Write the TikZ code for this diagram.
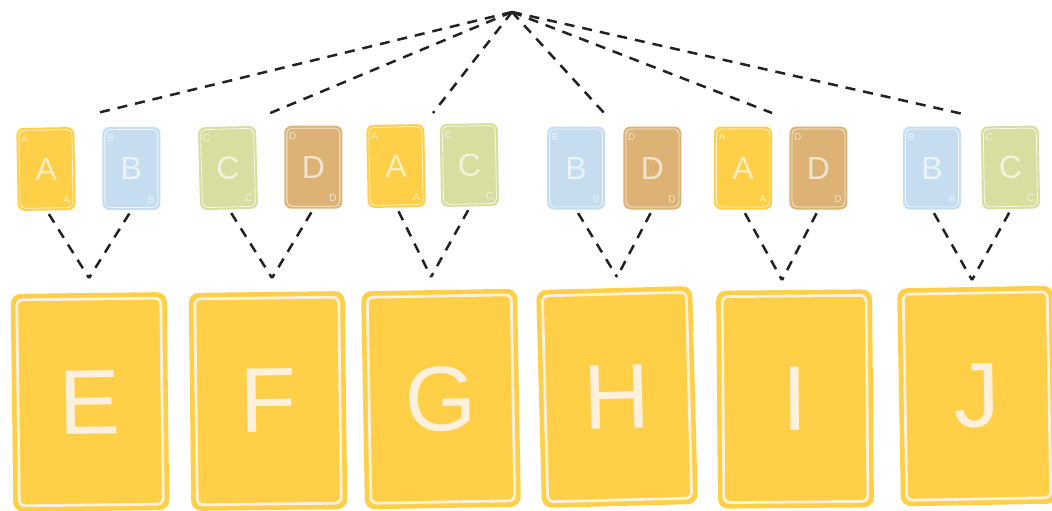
\documentclass[tikz,border=0pt]{standalone}
\usepackage{fontspec}
\setmainfont{Liberation Sans}
\usetikzlibrary{positioning}

\definecolor{cardyellow}{HTML}{FFCF48}
\definecolor{cardblue}{HTML}{C5DDEE}
\definecolor{cardgreen}{HTML}{D8DEA0}
\definecolor{cardtan}{HTML}{DCB374}
\definecolor{cream}{HTML}{FDF0DC}
\definecolor{dashgray}{HTML}{222222}

\begin{document}
\begin{tikzpicture}[
    x=1pt, y=-1pt,
    smallcard/.style={rectangle, rounded corners=7pt, fill=#1, minimum width=58pt, minimum height=83pt, inner sep=0pt, text=white, text opacity=.65, font=\fontsize{32}{32}\selectfont},
    smallframe/.style={rectangle, rounded corners=5pt, draw=white, draw opacity=.75, line width=.8pt, minimum width=53pt, minimum height=78pt, inner sep=0pt},
    tl/.style={anchor=north west, inner sep=0pt, xshift=2.5pt, yshift=-5pt, text=white, text opacity=.65, font=\fontsize{10}{10}\selectfont},
    br/.style={anchor=south east, inner sep=0pt, xshift=-3.5pt, yshift=4.5pt, text=white, text opacity=.65, font=\fontsize{10}{10}\selectfont},
    bigcard/.style={rectangle, rounded corners=10pt, fill=cardyellow, minimum width=156pt, minimum height=218pt, inner sep=0pt, text=cream, font=\fontsize{92}{92}\selectfont},
    bigframe/.style={rectangle, rounded corners=6pt, draw=cream, line width=2.8pt, minimum width=144pt, minimum height=206pt, inner sep=0pt},
    link/.style={draw=dashgray, line width=2.5pt, dash pattern=on 10pt off 8pt},
    ]
\clip (0,0) rectangle (1052,511);

%Small cards
\node[smallcard=cardyellow, rotate=1]   (A1)                        at (46,169) {A};
\node[smallcard=cardblue]               (B1) [right=27pt of A1]                 {B};
\node[smallcard=cardgreen, rotate=1.5]  (C1)                        at (228,168) {C};
\node[smallcard=cardtan]                (D1) [right=27pt of C1]                 {D};
\node[smallcard=cardyellow, rotate=1]   (A2)                        at (396,166) {A};
\node[smallcard=cardgreen, rotate=1]    (C2) [right=15pt of A2]                 {C};
\node[smallcard=cardblue]               (B2)                        at (576,168) {B};
\node[smallcard=cardtan]                (D2) [right=18pt of B2]                 {D};
\node[smallcard=cardyellow]             (A3)                        at (743,168) {A};
\node[smallcard=cardtan]                (D3) [right=17pt of A3]                 {D};
\node[smallcard=cardblue]               (B3)                        at (932,168) {B};
\node[smallcard=cardgreen, rotate=1]    (C3) [right=20pt of B3]                 {C};

%Small frames
\node[smallframe, rotate=1,   label={[tl]north west:A}, label={[br]south east:A}] (A1f) at (A1.center) {};
\node[smallframe,             label={[tl]north west:B}, label={[br]south east:B}] (B1f) at (B1.center) {};
\node[smallframe, rotate=1.5, label={[tl]north west:C}, label={[br]south east:C}] (C1f) at (C1.center) {};
\node[smallframe,             label={[tl]north west:D}, label={[br]south east:D}] (D1f) at (D1.center) {};
\node[smallframe, rotate=1,   label={[tl]north west:A}, label={[br]south east:A}] (A2f) at (A2.center) {};
\node[smallframe, rotate=1,   label={[tl]north west:C}, label={[br]south east:C}] (C2f) at (C2.center) {};
\node[smallframe,             label={[tl]north west:B}, label={[br]south east:B}] (B2f) at (B2.center) {};
\node[smallframe,             label={[tl]north west:D}, label={[br]south east:D}] (D2f) at (D2.center) {};
\node[smallframe,             label={[tl]north west:A}, label={[br]south east:A}] (A3f) at (A3.center) {};
\node[smallframe,             label={[tl]north west:D}, label={[br]south east:D}] (D3f) at (D3.center) {};
\node[smallframe,             label={[tl]north west:B}, label={[br]south east:B}] (B3f) at (B3.center) {};
\node[smallframe, rotate=1,   label={[tl]north west:C}, label={[br]south east:C}] (C3f) at (C3.center) {};

%Big cards
\node[bigcard, rotate=.7]  (E) at (90,402)  {E};
\node[bigcard, rotate=.7]  (F) at (268,401) {F};
\node[bigcard, rotate=1]   (G) at (441,399) {G};
\node[bigcard, rotate=1.5] (H) at (617,397) {H};
\node[bigcard, rotate=.5]  (I) at (795,399) {I};
\node[bigcard, rotate=1]   (J) at (977,396) {J};
\node[bigframe, rotate=.7]  (Ef) at (E.center) {};
\node[bigframe, rotate=.7]  (Ff) at (F.center) {};
\node[bigframe, rotate=1]   (Gf) at (G.center) {};
\node[bigframe, rotate=1.5] (Hf) at (H.center) {};
\node[bigframe, rotate=.5]  (If) at (I.center) {};
\node[bigframe, rotate=1]   (Jf) at (J.center) {};

%Points
\coordinate (root) at (512,12);
\coordinate (t1) at (93,114);
\coordinate (t2) at (268,114);
\coordinate (t3) at (433,113);
\coordinate (t4) at (605,114);
\coordinate (t5) at (772,113);
\coordinate (t6) at (963,114);
\coordinate (v1) at (89,278);
\coordinate (v2) at (272,278);
\coordinate (v3) at (431,277);
\coordinate (v4) at (617,277);
\coordinate (v5) at (782,280);
\coordinate (v6) at (972,280);

%Lines
\draw[link] (root) -- (t1);
\draw[link] (root) -- (t2);
\draw[link] (root) -- (t3);
\draw[link] (root) -- (t4);
\draw[link] (root) -- (t5);
\draw[link] (root) -- (t6);
\draw[link, shorten <=4pt] (A1.south) -- (v1);
\draw[link, shorten <=4pt] (B1.south) -- (v1);
\draw[link, shorten <=4pt] (C1.south) -- (v2);
\draw[link, shorten <=4pt] (D1.south) -- (v2);
\draw[link, shorten <=4pt] (A2.south) -- (v3);
\draw[link, shorten <=4pt] (C2.south) -- (v3);
\draw[link, shorten <=4pt] (B2.south) -- (v4);
\draw[link, shorten <=4pt] (D2.south) -- (v4);
\draw[link, shorten <=4pt] (A3.south) -- (v5);
\draw[link, shorten <=4pt] (D3.south) -- (v5);
\draw[link, shorten <=4pt] (B3.south) -- (v6);
\draw[link, shorten <=4pt] (C3.south) -- (v6);
\end{tikzpicture}
\end{document}
